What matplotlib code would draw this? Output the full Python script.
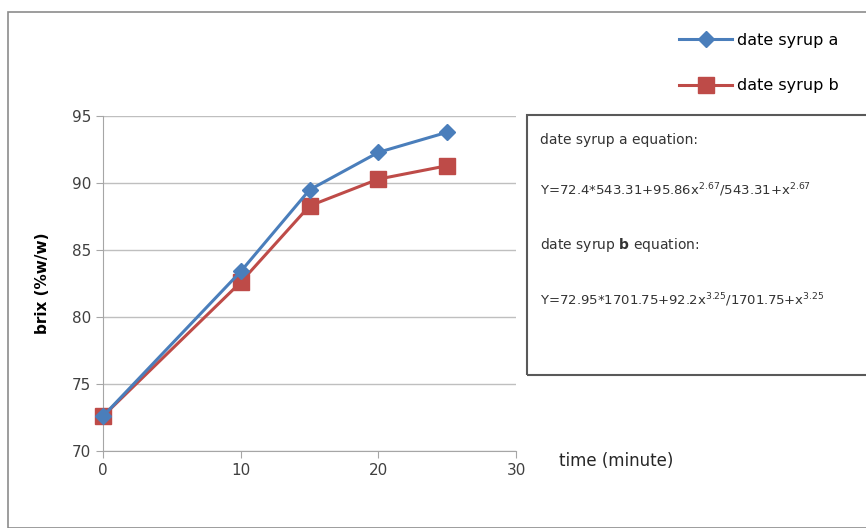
import numpy as np
import matplotlib.pyplot as plt
from matplotlib.patches import Rectangle

time_min = [0, 10, 15, 20, 25]
brix_a = [72.6, 83.4, 89.5, 92.3, 93.8]
brix_b = [72.6, 82.6, 88.3, 90.3, 91.3]

fig = plt.figure(figsize=(8.66, 5.28), dpi=100)
fig.patch.set_facecolor('white')

# outer chart frame
fig.add_artist(Rectangle((8/866, 0), 1.0, 1 - 12/528, transform=fig.transFigure,
                         fill=False, edgecolor='#8c8c8c', linewidth=1.2))

ax = fig.add_axes([0.119, 0.146, 0.477, 0.634])
ax.plot(time_min, brix_a, color='#4a7ebb', lw=2.2, marker='D', ms=8,
        label='date syrup a', clip_on=False, zorder=4)
ax.plot(time_min, brix_b, color='#be4b48', lw=2.2, marker='s', ms=12,
        label='date syrup b', clip_on=False, zorder=3)

ax.set_xlim(0, 30)
ax.set_ylim(70, 95)
ax.set_xticks([0, 10, 20, 30])
ax.set_yticks([70, 75, 80, 85, 90, 95])
ax.grid(axis='y', color='#bfbfbf', lw=1)
ax.set_axisbelow(True)
for s in ['top', 'right']:
    ax.spines[s].set_visible(False)
for s in ['left', 'bottom']:
    ax.spines[s].set_color('#a6a6a6')
ax.tick_params(colors='#a6a6a6', labelcolor='#404040', labelsize=11, length=5)
ax.set_ylabel('brix (%w/w)', fontsize=11, fontweight='bold', labelpad=16)
fig.text(0.645, 0.118, 'time (minute)', fontsize=12, color='#262626')

fig.legend(loc='upper right', bbox_to_anchor=(0.985, 0.965), frameon=False,
           fontsize=11.5, handlelength=3.3, handletextpad=0.3, labelspacing=1.9)

# equation box
fig.add_artist(Rectangle((527/866, 1 - 375/528), 0.5, (375 - 115)/528,
                         transform=fig.transFigure, fill=False,
                         edgecolor='#595959', linewidth=1.5))
tx = 540/866
fig.text(tx, 1 - 140/528, 'date syrup a equation:', fontsize=10, va='center',
         color='#333333')
fig.text(tx, 1 - 190/528, r'Y=72.4*543.31+95.86x$^{2.67}$/543.31+x$^{2.67}$',
         fontsize=9.5, va='center', color='#333333')
fig.text(tx, 1 - 245/528, r'date syrup $\mathbf{b}$ equation:', fontsize=10,
         va='center', color='#333333')
fig.text(tx, 1 - 300/528, r'Y=72.95*1701.75+92.2x$^{3.25}$/1701.75+x$^{3.25}$',
         fontsize=9.5, va='center', color='#333333')

fig.savefig('out.png', dpi=100)
